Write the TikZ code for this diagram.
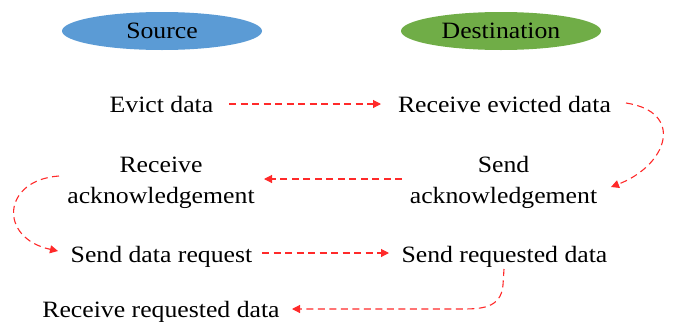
\documentclass[tikz,border=0pt]{standalone}
\usepackage{fontspec}
\setmainfont{Liberation Serif}[FakeStretch=1.1]
\usetikzlibrary{arrows.meta,shapes.geometric}
\definecolor{srcblue}{HTML}{5B9BD5}
\definecolor{dstgreen}{HTML}{70AD47}
\definecolor{arrred}{HTML}{FF2A2A}
\begin{document}
\begin{tikzpicture}[x=1pt,y=-1pt,
  lbl/.style={font=\fontsize{23.4}{31}\selectfont, inner sep=0pt, anchor=base, align=center},
  ell/.style={ellipse, minimum width=200pt, minimum height=38pt, inner sep=0pt, draw=none,
              font=\fontsize{23.4}{31}\selectfont},
  conn/.style={draw=arrred, line width=1.1pt, dash pattern=on 7pt off 4.5pt,
               -{Triangle[length=8pt,width=8pt]}}]
\useasboundingbox (0,0) rectangle (673,322);
\node[ell, fill=srcblue] (src) at (162,31) {Source};
\node[ell, fill=dstgreen] (dst) at (501,31) {Destination};

\node[lbl] (evict) at (161.5,112) {Evict data};
\node[lbl] (recv) at (504.5,112) {Receive evicted data};
\node[lbl] (rack) at (161,203) {Receive\\acknowledgement};
\node[lbl] (sack) at (503.5,203) {Send\\acknowledgement};
\node[lbl] (sreq) at (161.5,262) {Send data request};
\node[lbl] (sdata) at (504.5,262) {Send requested data};
\node[lbl] (rdata) at (161,317) {Receive requested data};

% free ends near the labels
\coordinate (e1) at (229,104);  \coordinate (e2) at (381,104);
\coordinate (k1) at (402,179);  \coordinate (k2) at (264,179);
\coordinate (q1) at (262,253);  \coordinate (q2) at (389,253);
\coordinate (r1) at (626,103);  \coordinate (r2) at (611,187);
\coordinate (l1) at (59,176);   \coordinate (l2) at (58,251);
\coordinate (b1) at (504,269);  \coordinate (b2) at (292,309);

\draw[conn] (e1) -- (e2);
\draw[conn] (k1) -- (k2);
\draw[conn] (q1) -- (q2);
\draw[conn] (r1) .. controls (685,112) and (668,165) .. (r2);
\draw[conn] (l1) .. controls (2,180) and (-2,238) .. (l2);
\draw[conn] (b1) -- (503,285) .. controls (501,309) and (480,309) .. (460,309) -- (b2);
\end{tikzpicture}
\end{document}
